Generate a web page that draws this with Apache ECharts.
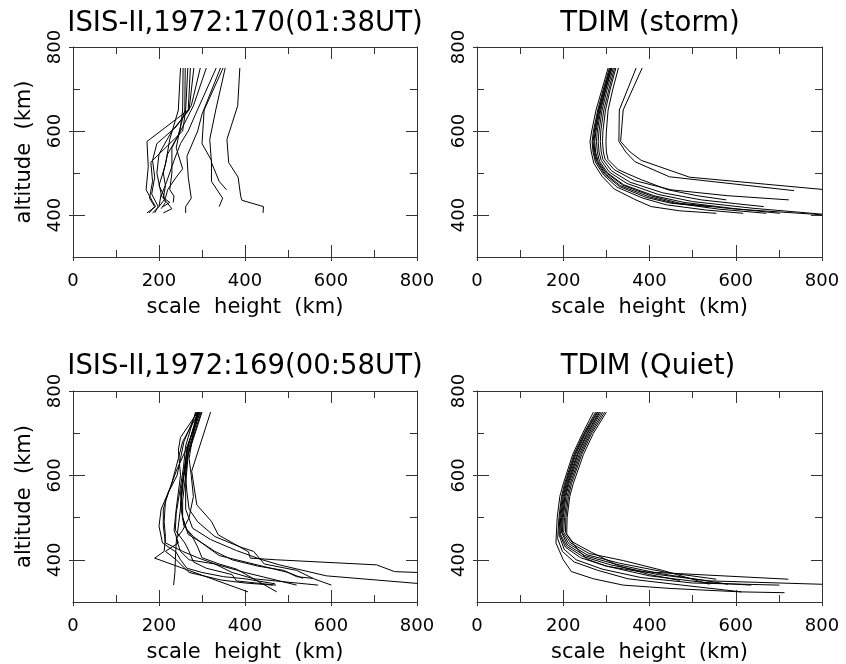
<!DOCTYPE html>
<html><head><meta charset="utf-8">
<script src="https://cdn.jsdelivr.net/npm/echarts@6/dist/echarts.min.js"></script>
<style>html,body{margin:0;padding:0;background:#fff}#c{width:846px;height:664px}</style>
</head><body><div id="c"></div>
<script>
const panelTitles = ['ISIS-II,1972:170(01:38UT)', 'TDIM (storm)', 'ISIS-II,1972:169(00:58UT)', 'TDIM (Quiet)'];
const xTickLabels = [0, 200, 400, 600, 800];
const yTickLabels = [400, 600, 800];
const yMinorTicks = [500, 700];
const xName = 'scale  height  (km)';
const yName = 'altitude  (km)';

// [scale height (km), altitude (km)] per profile
const isis170 = [
  [[388,750],[383,660],[358,580],[362,525],[384,490],[390,445],[393,435],[443,420],[442,405]],
  [[354,750],[332,650],[318,580],[322,525],[340,480],[357,460]],
  [[349,750],[305,650],[300,570],[322,530],[322,480],[348,440],[340,420]],
  [[343,750],[300,640],[290,600],[265,540],[268,490],[275,440],[262,420],[262,405]],
  [[333,750],[285,640],[268,600],[250,570],[235,530],[218,480],[205,445],[225,430],[210,420]],
  [[310,750],[280,660],[250,600],[230,560],[230,500],[225,460],[235,445],[233,430]],
  [[296,750],[275,660],[240,610],[195,570],[185,530],[190,490],[183,450],[198,420],[190,405]],
  [[281,750],[270,650],[230,600],[200,545],[195,500],[205,450],[200,420],[185,405]],
  [[273,750],[268,650],[172,575],[175,515],[170,460],[185,432],[192,420],[172,405]],
  [[267,750],[262,650],[255,600],[181,526],[185,480],[178,440],[190,420],[177,405]],
  [[261,750],[260,650],[245,590],[220,545],[210,500],[215,470],[210,440],[230,415],[210,405]],
  [[256,750],[255,650],[250,610],[240,560],[255,510],[240,490],[220,460],[215,440],[200,420]],
  [[250,750],[245,650],[225,580],[215,520],[200,470],[210,450],[215,430],[205,415]]
];

const tdimStorm = [
  [[369,750],[330,650],[329,575],[345,550],[366,527],[446,491],[735,458]],
  [[383,750],[339,650],[333,575],[355,550],[381,530],[493,490],[800,461]],
  [[304,750],[290,700],[276,650],[266,600],[262,575],[265,550],[271,523],[290,492],[318,462],[366,437],[404,420],[470,410],[555,404]],
  [[307,750],[293,700],[280,650],[270,600],[267,575],[269,550],[275,525],[294,495],[325,466],[385,440],[440,424],[530,412],[617,404]],
  [[310,750],[296,700],[283,650],[274,600],[271,575],[273,550],[279,527],[298,498],[332,470],[400,443],[460,428],[560,414],[671,404]],
  [[313,750],[299,700],[287,650],[279,600],[277,575],[279,550],[284,528],[303,500],[340,472],[410,446],[480,430],[590,416],[702,404]],
  [[316,750],[302,700],[290,650],[283,600],[281,575],[283,550],[288,530],[307,502],[348,475],[420,449],[500,432],[640,416],[800,402]],
  [[319,750],[306,700],[294,650],[287,600],[286,575],[288,550],[292,532],[312,505],[355,478],[430,453],[520,436],[600,427],[665,420]],
  [[322,750],[309,700],[298,650],[292,600],[291,575],[293,550],[297,533],[318,508],[365,482],[450,460],[580,446],[723,436]],
  [[328,750],[315,700],[304,650],[300,600],[299,575],[300,550],[304,532],[327,508],[381,484],[443,460],[510,446],[578,436]],
  [[312,750],[298,700],[285,650],[276,600],[273,575],[275,550],[281,528],[300,500],[338,471],[405,445],[470,428],[600,414],[780,402],[800,400]],
  [[309,750],[295,700],[282,650],[272,600],[269,575],[271,550],[277,527],[296,497],[330,468],[392,442],[450,428],[539,420]]
];

const isis169 = [
  [[320,750],[276,610],[288,530],[322,491],[338,459],[408,419],[412,404],[473,400],[706,388],[748,372],[801,370]],
  [[300,750],[268,650],[262,580],[262,520],[278,475],[320,448],[380,422],[434,402],[480,388],[589,362],[801,344]],
  [[296,750],[262,660],[240,610],[215,540],[212,490],[215,455],[212,420],[190,404],[407,324]],
  [[293,750],[255,680],[245,640],[228,575],[205,520],[200,480],[208,440],[240,418],[250,400],[265,380],[300,370],[350,360],[400,355],[470,343]],
  [[290,750],[250,690],[245,660],[250,600],[240,520],[235,470],[245,440],[215,420],[240,400],[270,370],[345,352],[400,345],[465,340]],
  [[298,750],[270,660],[258,600],[252,540],[245,480],[240,440],[238,400],[237,370],[234,340]],
  [[295,750],[268,660],[262,600],[255,540],[255,500],[268,460],[300,440],[330,420],[370,400],[430,385],[490,375],[520,360],[558,356]],
  [[292,750],[265,660],[255,590],[250,530],[258,480],[280,455],[310,432],[340,410],[400,395],[460,380],[500,370],[535,356]],
  [[285,750],[262,670],[257,620],[248,560],[240,510],[238,470],[260,440],[270,420],[280,395],[310,380],[370,365],[380,350],[472,340]],
  [[290,750],[265,660],[260,610],[250,560],[255,500],[265,470],[280,450],[290,430],[300,405],[340,390],[380,378],[474,324]],
  [[288,750],[270,640],[275,600],[280,550],[270,500],[255,470],[240,450],[250,420],[270,400],[330,390],[370,370],[420,355],[570,340]],
  [[287,750],[258,680],[250,640],[242,600],[222,560],[210,520],[210,480],[215,440],[255,420],[290,405],[330,390],[400,370],[520,340]],
  [[293,750],[270,680],[260,620],[265,560],[270,520],[290,490],[330,455],[390,430],[420,420],[445,390],[520,375],[560,355],[601,340]]
];

const tdimQuiet = [
  [[270,750],[245,700],[222,650],[200,580],[192,550],[186,500],[183,440],[200,400],[219,372],[270,355],[339,340],[450,332],[610,324],[713,322]],
  [[275,750],[248,700],[225,650],[203,580],[196,550],[190,500],[187,450],[198,420],[225,395],[280,375],[350,355],[450,343],[613,324]],
  [[278,750],[250,700],[227,650],[205,580],[198,550],[192,500],[190,460],[202,425],[230,400],[290,378],[380,358],[500,345],[701,340]],
  [[280,750],[252,700],[229,650],[207,580],[200,550],[194,500],[192,460],[205,430],[240,405],[300,385],[400,362],[520,347],[636,340]],
  [[283,750],[255,700],[232,650],[209,580],[202,550],[196,500],[194,460],[208,432],[245,408],[310,388],[420,365],[540,350],[800,342]],
  [[285,750],[257,700],[234,650],[211,580],[204,550],[198,500],[196,465],[210,435],[250,410],[320,390],[420,368],[582,342]],
  [[288,750],[260,700],[237,650],[213,580],[206,550],[200,500],[198,465],[213,438],[255,412],[330,392],[440,370],[555,354]],
  [[300,750],[270,700],[247,650],[223,580],[215,550],[209,500],[208,460],[225,435],[254,402],[300,385],[378,372],[722,354]],
  [[296,750],[266,700],[243,650],[219,580],[212,550],[206,500],[205,465],[222,442],[265,418],[330,385],[400,365],[470,351]],
  [[292,750],[263,700],[240,650],[216,580],[209,550],[203,500],[201,465],[217,440],[260,415],[340,398],[430,375],[539,342]]
];

const panels = [isis170, tdimStorm, isis169, tdimQuiet];

const FONT = 'DejaVu Sans';
const AX = '#333';
const grids = [
  {left: 73, top: 47, width: 344, height: 210},
  {left: 477, top: 47, width: 345, height: 210},
  {left: 73, top: 391, width: 344, height: 211},
  {left: 477, top: 391, width: 345, height: 211}
].map(g => Object.assign({outerBoundsMode: 'none', containLabel: false, show: false}, g));

const xAxes = [], yAxes = [], series = [];
const tickStyle = {color: AX, width: 1};
panels.forEach((lines, p) => {
  const xBase = {
    type: 'value', gridIndex: p, min: 0, max: 800, interval: 200,
    splitLine: {show: false}, minorSplitLine: {show: false}
  };
  // bottom main axis (labels, inner ticks)
  xAxes.push(Object.assign({}, xBase, {
    position: 'bottom',
    axisLine: {show: true, lineStyle: {color: AX, width: 1}},
    axisTick: {show: true, inside: true, length: 12, lineStyle: tickStyle},
    minorTick: {show: true, splitNumber: 2, length: 7, lineStyle: tickStyle},
    axisLabel: {show: true, fontSize: 18, fontFamily: FONT, color: '#000', margin: 15,
      formatter: v => xTickLabels.includes(v) ? String(v) : ''},
    name: xName, nameLocation: 'middle', nameGap: 40,
    nameTextStyle: {fontSize: 21, fontFamily: FONT, color: '#000'}
  }));
  // bottom outer stubs of major ticks
  xAxes.push(Object.assign({}, xBase, {
    position: 'bottom', axisLine: {show: false},
    axisTick: {show: true, inside: false, length: 4, lineStyle: tickStyle},
    axisLabel: {show: false}
  }));
  // top axis
  xAxes.push(Object.assign({}, xBase, {
    position: 'top',
    axisLine: {show: true, lineStyle: {color: AX, width: 1}},
    axisTick: {show: true, inside: true, length: 12, lineStyle: tickStyle},
    minorTick: {show: true, splitNumber: 2, length: 7, lineStyle: tickStyle},
    axisLabel: {show: false}
  }));

  const yBase = {
    type: 'value', gridIndex: p, min: 300, max: 800, interval: 100,
    splitLine: {show: false}
  };
  const yl = Object.assign({}, yBase, {
    position: 'left',
    axisLine: {show: true, lineStyle: {color: AX, width: 1}},
    axisTick: {show: true, inside: true, length: 12, customValues: yTickLabels, lineStyle: tickStyle},
    axisLabel: {show: true, rotate: 90, fontSize: 18, fontFamily: FONT, color: '#000', margin: 9,
      customValues: yTickLabels, formatter: v => String(v)}
  });
  if (p % 2 === 0) {
    Object.assign(yl, {name: yName, nameLocation: 'middle', nameGap: 38,
      nameTextStyle: {fontSize: 21, fontFamily: FONT, color: '#000'}});
  }
  yAxes.push(yl);
  yAxes.push(Object.assign({}, yBase, {
    position: 'left', axisLine: {show: false}, axisLabel: {show: false},
    axisTick: {show: true, inside: true, length: 7, customValues: yMinorTicks, lineStyle: tickStyle}
  }));
  yAxes.push(Object.assign({}, yBase, {
    position: 'left', axisLine: {show: false}, axisLabel: {show: false},
    axisTick: {show: true, inside: false, length: 4, customValues: yTickLabels, lineStyle: tickStyle}
  }));
  yAxes.push(Object.assign({}, yBase, {
    position: 'right', axisLine: {show: true, lineStyle: {color: AX, width: 1}}, axisLabel: {show: false},
    axisTick: {show: true, inside: true, length: 11, customValues: yTickLabels, lineStyle: tickStyle}
  }));
  yAxes.push(Object.assign({}, yBase, {
    position: 'right', axisLine: {show: false}, axisLabel: {show: false},
    axisTick: {show: true, inside: true, length: 7, customValues: yMinorTicks, lineStyle: tickStyle}
  }));

  lines.forEach(line => {
    series.push({
      type: 'line', xAxisIndex: 3 * p, yAxisIndex: 5 * p, data: line,
      symbol: 'none', showSymbol: false, silent: true, clip: true,
      lineStyle: {color: '#000', width: 1}
    });
  });
});

const titleX = [245, 650, 245, 648];
const titleY = [24, 24, 367, 367];
const graphic = panelTitles.map((t, i) => ({
  type: 'text', x: titleX[i], y: titleY[i], silent: true,
  style: {text: t, fontSize: 27.5, fontFamily: FONT, fill: '#000', textAlign: 'center', textVerticalAlign: 'middle'}
}));

const chart = echarts.init(document.getElementById('c'), null, {renderer: 'canvas'});
chart.setOption({
  animation: false,
  backgroundColor: '#fff',
  grid: grids,
  xAxis: xAxes,
  yAxis: yAxes,
  series: series,
  graphic: graphic
});
</script>
</body></html>
